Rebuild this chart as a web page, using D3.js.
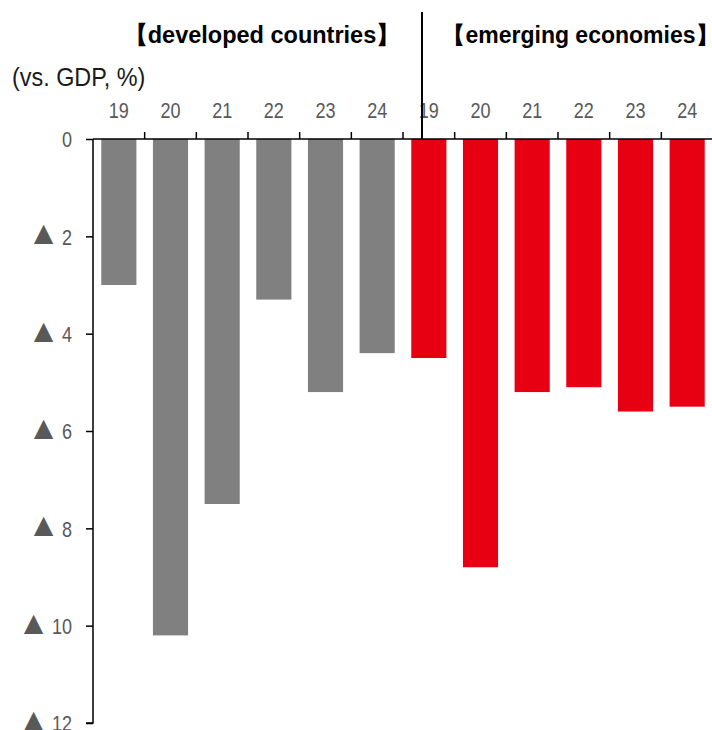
<!DOCTYPE html>
<html><head><meta charset="utf-8">
<script src="https://cdn.jsdelivr.net/npm/d3@7"></script>
<style>
body{margin:0;background:#fff;}
svg{display:block;}
text{font-family:"Liberation Sans",Arial,sans-serif;}
</style>
</head><body>
<svg id="c" width="712" height="730"></svg>
<script>
const groups = ["developed countries", "emerging economies"];
const years = ["19", "20", "21", "22", "23", "24"];
const developed = [3.0, 10.2, 7.5, 3.3, 5.2, 4.4];
const emerging = [4.5, 8.8, 5.2, 5.1, 5.6, 5.5];
const yTicks = [0, 2, 4, 6, 8, 10, 12];
const colors = ["#808080", "#E60012"];
const unitLabel = "(vs. GDP, %)";
const negMark = "\u25B2";

const rows = [];
[developed, emerging].forEach((vals, gi) => {
  years.forEach((y, i) => rows.push({key: gi + "-" + y, year: y, group: gi, value: vals[i]}));
});

const NARROW = 0.82;
function narrow(sel, k) {
  k = k || NARROW;
  sel.each(function() {
    const t = d3.select(this);
    const xx = +t.attr("x") || 0;
    t.attr("transform", `translate(${xx},0) scale(${k},1) translate(${-xx},0)`);
  });
}

const svg = d3.select("#c");
const x = d3.scaleBand().domain(rows.map(d => d.key)).range([93, 713]).paddingInner(0.32).paddingOuter(0.16);
const y = d3.scaleLinear().domain([0, 12]).range([139, 723]);

// bars
svg.append("g").selectAll("rect").data(rows).join("rect")
  .attr("x", d => x(d.key)).attr("width", x.bandwidth())
  .attr("y", y(0)).attr("height", d => y(d.value) - y(0))
  .attr("fill", d => colors[d.group]);

// top axis (category)
const xAxis = d3.axisTop(x).tickSize(0).tickFormat(k => k.split("-")[1]);
const gx = svg.append("g").attr("transform", `translate(0,${y(0)})`).call(xAxis);
gx.select(".domain").remove();
gx.selectAll("text").attr("font-size", 22).attr("font-family", "Liberation Sans").attr("fill", "#595959").attr("dy", 0).attr("y", -21).call(narrow);
svg.append("line").attr("x1", 93).attr("x2", 713).attr("y1", y(0)).attr("y2", y(0)).attr("stroke", "#000").attr("stroke-width", 1.5);
// tick marks at band boundaries
const bounds = d3.range(1, rows.length + 1).map(i => x(rows[i - 1].key) + x.bandwidth() + x.step() * x.paddingInner() / 2);
svg.append("g").selectAll("line").data(bounds).join("line")
  .attr("x1", d => d).attr("x2", d => d).attr("y1", y(0)).attr("y2", y(0) - 7)
  .attr("stroke", "#000").attr("stroke-width", 1.5);

// left axis
const yAxis = d3.axisLeft(y).tickValues(yTicks).tickSize(7).tickPadding(14).tickFormat(d => String(d));
const gy = svg.append("g").attr("transform", "translate(93,0)").call(yAxis);
gy.select(".domain").attr("stroke-width", 1.5).attr("d", `M-7,${y(12)}H0V${y(0)}`);
gy.selectAll(".tick line").attr("stroke-width", 1.5);
gy.selectAll(".tick text").attr("font-size", 22).attr("font-family", "Liberation Sans").attr("fill", "#595959").attr("dy", "0.36em").call(narrow);
gy.selectAll(".tick").each(function(d) {
  if (d === 0) return;
  const tick = d3.select(this);
  const num = tick.select("text");
  const w = num.node().getComputedTextLength() * NARROW;
  const right = +num.attr("x") - w - 2;
  tick.append("text").attr("x", right).attr("dy", 7.5).attr("text-anchor", "end")
    .attr("font-family", "DejaVu Sans").attr("font-size", 33).attr("fill", "#595959").text(negMark);
});

// divider
const divX = 422;
svg.append("line").attr("x1", divX).attr("x2", divX).attr("y1", 12).attr("y2", y(0)).attr("stroke", "#000").attr("stroke-width", 2);

// titles
const titleX = [262, 580.5];
const titleSize = [23.5, 23];
groups.forEach((g, i) => {
  svg.append("text").attr("x", titleX[i]).attr("y", 43).attr("text-anchor", "middle")
    .attr("font-size", titleSize[i]).attr("font-weight", "bold").attr("fill", "#000").text("\u3010" + g + "\u3011");
});
svg.append("text").attr("x", 12).attr("y", 86).attr("font-size", 26).attr("fill", "#1a1a1a").text(unitLabel).call(narrow, 0.9);
</script>
</body></html>
